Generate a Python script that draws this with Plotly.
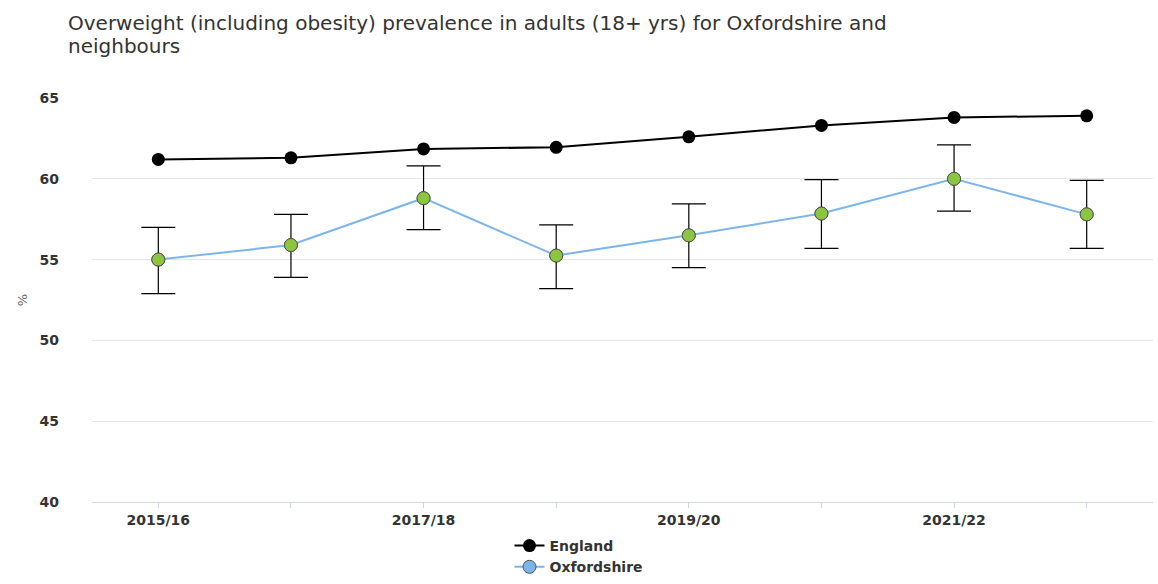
import plotly.graph_objects as go

periods = ["2015/16", "2016/17", "2017/18", "2018/19", "2019/20", "2020/21", "2021/22", "2022/23"]
tick_labels = ["2015/16", "", "2017/18", "", "2019/20", "", "2021/22", ""]
england = [61.2, 61.3, 61.85, 61.95, 62.6, 63.3, 63.8, 63.9]
oxon = [55.0, 55.9, 58.8, 55.25, 56.5, 57.85, 60.0, 57.8]
oxon_upper = [57.0, 57.8, 60.8, 57.15, 58.45, 59.95, 62.1, 59.9]
oxon_lower = [52.9, 53.9, 56.85, 53.2, 54.5, 55.7, 58.0, 55.7]
title_lines = ["Overweight (including obesity) prevalence in adults (18+ yrs) for Oxfordshire and",
               "neighbours"]

font = "DejaVu Sans"
W, H = 1158, 584
fig = go.Figure()

fig.add_trace(go.Scatter(
    x=periods, y=england, name="England", mode="lines+markers",
    line=dict(color="#000000", width=2),
    marker=dict(color="#000000", size=13, symbol="circle"),
))
fig.add_trace(go.Scatter(
    x=periods, y=oxon, name="Oxfordshire", mode="lines+markers",
    line=dict(color="#7cb5ec", width=2),
    marker=dict(color="#7cb5ec", size=13, symbol="circle", line=dict(color="#555555", width=1)),
))
fig.add_trace(go.Scatter(
    x=periods, y=oxon, name="Oxfordshire CI", mode="markers", showlegend=False,
    marker=dict(color="#8cc63e", size=13, symbol="circle", line=dict(color="#555555", width=1)),
    error_y=dict(type="data", symmetric=False,
                 array=[u - v for u, v in zip(oxon_upper, oxon)],
                 arrayminus=[v - l for v, l in zip(oxon, oxon_lower)],
                 color="#000000", thickness=1.2, width=17),
))

annotations = []
for line, yc in zip(title_lines, [23, 46]):
    annotations.append(dict(
        text=line, xref="paper", yref="paper",
        x=(66 - 92) / (W - 92 - 5), xanchor="left",
        y=1 + (98 - yc) / (H - 98 - 82), yanchor="middle",
        showarrow=False, align="left",
        font=dict(family=font, size=20, color="#333333"),
    ))

fig.update_layout(
    width=W, height=H,
    margin=dict(l=92, r=5, t=98, b=82, autoexpand=False),
    paper_bgcolor="white", plot_bgcolor="white",
    font=dict(family=font, color="#333333"),
    annotations=annotations,
    xaxis=dict(
        type="category", categoryorder="array", categoryarray=periods,
        range=[-0.5, 7.5], automargin=False,
        tickmode="array", tickvals=periods, ticktext=tick_labels,
        ticks="outside", ticklen=5, tickcolor="#ccd6eb",
        showline=True, linecolor="#ccd6eb", linewidth=1,
        showgrid=False, zeroline=False,
        tickfont=dict(family=font, size=14, color="#333333", weight="bold"),
    ),
    yaxis=dict(
        range=[40, 65], tickvals=[40, 45, 50, 55, 60, 65], automargin=False,
        showgrid=True, gridcolor="#e6e6e6", gridwidth=1,
        zeroline=False, showline=False, ticks="",
        ticklabelstandoff=32,
        tickfont=dict(family=font, size=14, color="#333333", weight="bold"),
        title=dict(text="%", font=dict(family=font, size=13, color="#666666"), standoff=8),
    ),
    legend=dict(
        orientation="v", x=0.5, xanchor="center", xref="container",
        y=1 - 530 / H, yanchor="top", yref="container",
        font=dict(family=font, size=14, color="#333333", weight="bold"),
        tracegroupgap=0, itemwidth=30, bgcolor="rgba(0,0,0,0)",
    ),
    showlegend=True,
)

fig.write_html("out.html")
